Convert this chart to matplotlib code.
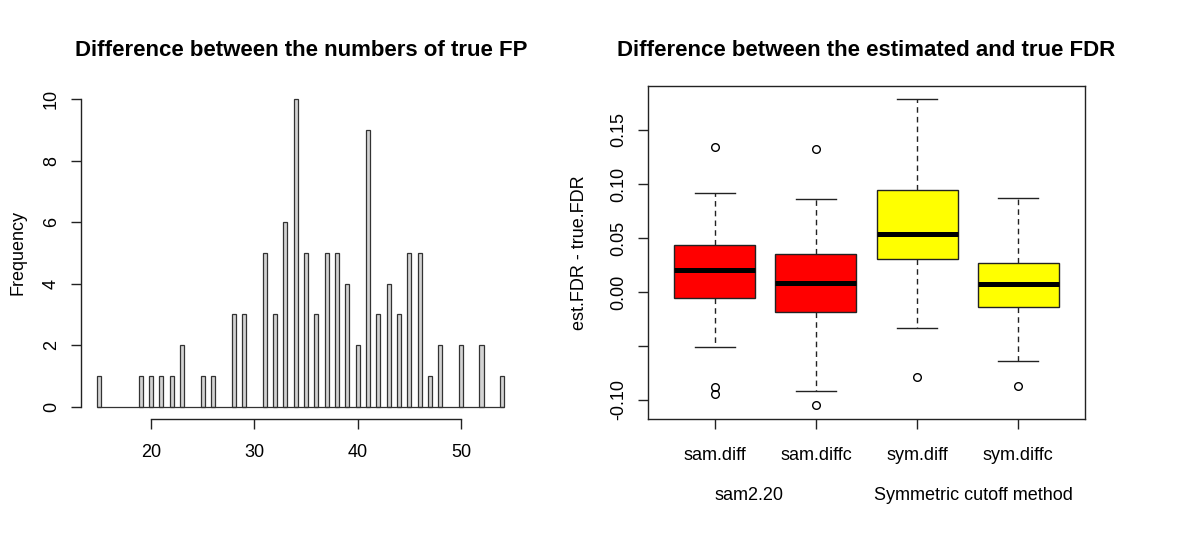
import matplotlib
matplotlib.use("Agg")
import matplotlib.pyplot as plt

plt.rcParams['font.family'] = ['Liberation Sans', 'DejaVu Sans']

# ---- Histogram data: difference between numbers of true FP ----
fp_values = [15, 19, 20, 21, 22, 23, 25, 26, 28, 29, 31, 32, 33, 34, 35, 36, 37, 38,
             39, 40, 41, 42, 43, 44, 45, 46, 47, 48, 50, 52, 54]
fp_counts = [1, 1, 1, 1, 1, 2, 1, 1, 3, 3, 5, 3, 6, 10, 5, 3, 5, 5,
             4, 2, 9, 3, 4, 3, 5, 5, 1, 2, 2, 2, 1]
hist_xticks = [20, 30, 40, 50]
hist_yticks = [0, 2, 4, 6, 8, 10]

# ---- Boxplot data: est.FDR - true.FDR ----
box_labels = ["sam.diff", "sam.diffc", "sym.diff", "sym.diffc"]
box_colors = ["#FF0000", "#FF0000", "#FFFF00", "#FFFF00"]
box_med = [0.0201, 0.0084, 0.0539, 0.0071]
box_q1 = [-0.0058, -0.0181, 0.0305, -0.0141]
box_q3 = [0.0435, 0.0349, 0.0943, 0.0265]
box_whislo = [-0.0507, -0.0914, -0.0329, -0.0640]
box_whishi = [0.0921, 0.0857, 0.1789, 0.0872]
box_fliers = [[0.1340, -0.0883, -0.0945], [0.1328, -0.1046], [-0.0791], [-0.0868]]
box_yticks = [-0.10, -0.05, 0.00, 0.05, 0.10, 0.15]
box_yticklabels = ["-0.10", "", "0.00", "0.05", "0.10", "0.15"]
group_labels = ["sam2.20", "Symmetric cutoff method"]

W, H = 1200, 542
fig = plt.figure(figsize=(W / 100, H / 100), dpi=100)

def frac(x0, y_top, x1, y_bot):
    return [x0 / W, 1 - y_bot / H, (x1 - x0) / W, (y_bot - y_top) / H]

FS = 13
tick_kw = dict(direction='out', length=7.2, width=1.0, labelsize=FS, color='#222222')

# ---------------- Left: histogram ----------------
ax1 = fig.add_axes(frac(81, 86.7, 520.6, 419))
ax1.bar(fp_values, fp_counts, width=0.4, color='#D3D3D3', edgecolor='#333333', linewidth=0.9)
ax1.hlines(0, fp_values[0] - 0.2, fp_values[-1] + 0.2, color='#333333', linewidth=0.9)
ax1.set_xlim(13.22, 55.78)
ax1.set_ylim(-0.4, 10.4)
for s in ['top', 'right']:
    ax1.spines[s].set_visible(False)
ax1.spines['left'].set_bounds(0, 10)
ax1.spines['bottom'].set_bounds(20, 50)
for s in ['left', 'bottom']:
    ax1.spines[s].set_linewidth(1.0)
    ax1.spines[s].set_color('#222222')
ax1.set_xticks(hist_xticks)
ax1.set_yticks(hist_yticks)
ax1.set_yticklabels([str(v) for v in hist_yticks], rotation=90, va='center')
ax1.tick_params(axis='y', pad=8, **tick_kw)
ax1.tick_params(axis='x', pad=11, **tick_kw)
ax1.set_ylabel("Frequency", fontsize=FS, labelpad=12)
fig.text(300.8 / W, 1 - 56 / H, "Difference between the numbers of true FP",
         ha='center', va='baseline', fontsize=16, fontweight='bold')

# ---------------- Right: boxplot ----------------
ax2 = fig.add_axes(frac(648, 85.7, 1085, 419))
stats = []
for i in range(len(box_labels)):
    stats.append(dict(med=box_med[i], q1=box_q1[i], q3=box_q3[i],
                      whislo=box_whislo[i], whishi=box_whishi[i],
                      fliers=box_fliers[i], label=box_labels[i]))
bp = ax2.bxp(stats, positions=range(1, len(box_labels) + 1), widths=0.8,
             patch_artist=True, showfliers=True,
             boxprops=dict(edgecolor='#222222', linewidth=1.0),
             medianprops=dict(color='black', linewidth=3.6, solid_capstyle='butt'),
             whiskerprops=dict(color='#222222', linewidth=1.0, linestyle=(0, (4, 3))),
             capprops=dict(color='#222222', linewidth=1.0),
             flierprops=dict(marker='o', markerfacecolor='none', markeredgecolor='black',
                             markersize=5.5, markeredgewidth=1.0))
for patch, c in zip(bp['boxes'], box_colors):
    patch.set_facecolor(c)
for cap in bp['caps']:
    xd = cap.get_xdata()
    mid = (xd[0] + xd[1]) / 2
    cap.set_xdata([mid - 0.2, mid + 0.2])
ax2.set_xlim(0.34, 4.66)
ax2.set_ylim(-0.1176, 0.191)
for s in ax2.spines.values():
    s.set_linewidth(1.0)
    s.set_color('#222222')
ax2.set_yticks(box_yticks)
ax2.set_yticklabels(box_yticklabels, rotation=90, va='center')
ax2.tick_params(axis='y', pad=8, **tick_kw)
ax2.tick_params(axis='x', pad=13, **tick_kw)
ax2.set_xticklabels(box_labels)
ax2.set_ylabel("est.FDR - true.FDR", fontsize=FS, labelpad=16)
group_x = [1.342, 3.561]
for gx, gl in zip(group_x, group_labels):
    ax2.text(gx, -0.1176 - 76 / 1080, gl, ha='center', va='center', fontsize=FS,
             transform=ax2.transData, clip_on=False)
fig.text(866.5 / W, 1 - 56 / H, "Difference between the estimated and true FDR",
         ha='center', va='baseline', fontsize=16, fontweight='bold')

fig.savefig("out.png", dpi=100, facecolor='white')
